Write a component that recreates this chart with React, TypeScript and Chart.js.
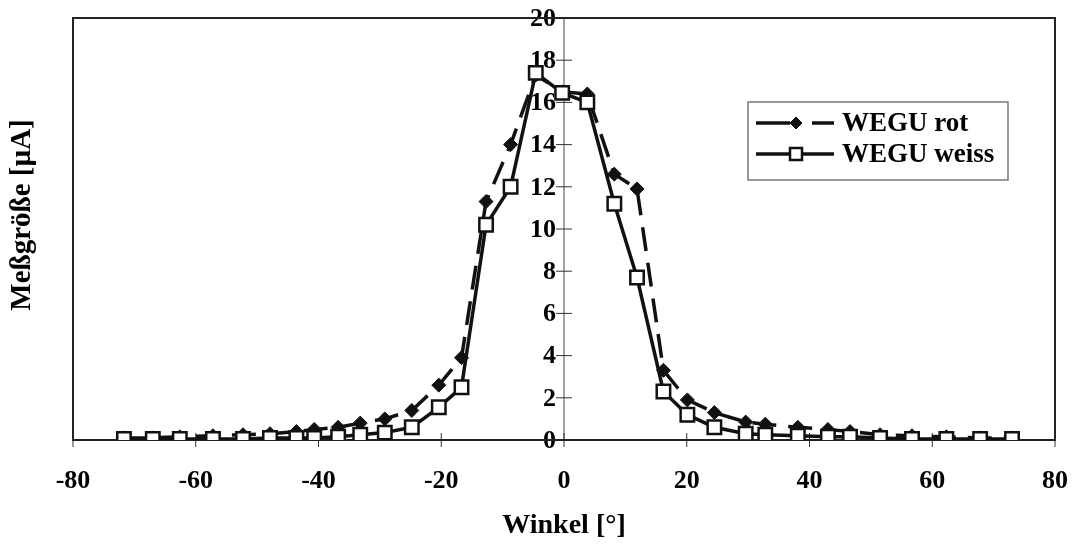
import React, { useEffect, useRef } from "react";
import { Chart, registerables } from "chart.js";

Chart.register(...registerables);

// Winkel [°] (x positions shared by both series)
const angles = [
  -71.7, -67.0, -62.6, -57.2, -52.3, -47.9, -43.6, -40.7, -36.8, -33.2,
  -29.2, -24.8, -20.4, -16.7, -12.7, -8.7, -4.6, -0.3, 3.8, 8.2,
  11.9, 16.2, 20.1, 24.5, 29.6, 32.8, 38.1, 43.0, 46.6, 51.5,
  56.7, 62.3, 67.8, 73.0,
];
// Meßgröße [µA]
const wegRot = [
  0.1, 0.1, 0.15, 0.2, 0.25, 0.3, 0.4, 0.5, 0.6, 0.8,
  1.0, 1.4, 2.6, 3.9, 11.3, 14.0, 17.3, 16.5, 16.4, 12.6,
  11.9, 3.3, 1.9, 1.3, 0.85, 0.75, 0.6, 0.5, 0.4, 0.25,
  0.2, 0.15, 0.1, 0.1,
];
const wegWeiss = [
  0.05, 0.05, 0.05, 0.05, 0.05, 0.1, 0.1, 0.1, 0.15, 0.25,
  0.35, 0.6, 1.55, 2.5, 10.2, 12.0, 17.4, 16.45, 16.0, 11.2,
  7.7, 2.3, 1.2, 0.6, 0.3, 0.25, 0.2, 0.15, 0.15, 0.1,
  0.05, 0.05, 0.05, 0.05,
];
const seriesLabels = ["WEGU rot", "WEGU weiss"];
const xTickValues = [-80, -60, -40, -20, 0, 20, 40, 60, 80];
const yTickValues = [0, 2, 4, 6, 8, 10, 12, 14, 16, 18, 20];
const xTitle = "Winkel [°]";
const yTitle = "Meßgröße [µA]";

const FONT = '"Liberation Serif", "Times New Roman", serif';
const INK = "#111";
const TICK_SIZE = 26;

const framePlugin = {
  id: "frame",
  beforeDatasetsDraw(chart: any) {
    const { ctx, chartArea: a, scales } = chart;
    const xs = scales.x;
    const ys = scales.y;
    ctx.save();
    // y axis line at x = 0
    const x0 = xs.getPixelForValue(0);
    ctx.strokeStyle = "#666";
    ctx.lineWidth = 1.2;
    ctx.beginPath();
    ctx.moveTo(x0, a.top);
    ctx.lineTo(x0, a.bottom);
    ctx.stroke();
    // y tick crosses + labels (axis crosses at x = 0)
    ctx.strokeStyle = "#333";
    ctx.lineWidth = 1;
    ctx.fillStyle = "#000";
    ctx.font = `bold ${TICK_SIZE}px ${FONT}`;
    ctx.textAlign = "right";
    ctx.textBaseline = "middle";
    ys.ticks.forEach((t: any) => {
      const py = ys.getPixelForValue(t.value);
      ctx.beginPath();
      ctx.moveTo(x0 - 8, py);
      ctx.lineTo(x0 + 8, py);
      ctx.stroke();
      ctx.fillText(String(t.value), x0 - 8, py + 1);
    });
    // x tick crosses
    xs.ticks.forEach((t: any) => {
      const px = xs.getPixelForValue(t.value);
      ctx.beginPath();
      ctx.moveTo(px, a.bottom - 7);
      ctx.lineTo(px, a.bottom + 7);
      ctx.stroke();
    });
    // frame
    ctx.strokeStyle = "#222";
    ctx.lineWidth = 2;
    ctx.strokeRect(a.left, a.top, a.right - a.left, a.bottom - a.top);
    ctx.restore();
  },
  afterDraw(chart: any) {
    const { ctx } = chart;
    const ds = chart.data.datasets;
    ctx.save();
    // y title
    ctx.translate(23, 215);
    ctx.rotate(-Math.PI / 2);
    ctx.fillStyle = "#000";
    ctx.font = `bold 29px ${FONT}`;
    ctx.textAlign = "center";
    ctx.textBaseline = "middle";
    ctx.fillText(yTitle, 0, 0);
    ctx.restore();

    // legend
    ctx.save();
    const bx = 748, by = 102, bw = 260, bh = 78;
    ctx.fillStyle = "#fff";
    ctx.fillRect(bx, by, bw, bh);
    ctx.strokeStyle = "#777";
    ctx.lineWidth = 1.5;
    ctx.strokeRect(bx, by, bw, bh);
    const rows = [123, 154];
    rows.forEach((ry, i) => {
      const d = ds[i];
      ctx.strokeStyle = d.borderColor;
      ctx.lineWidth = d.borderWidth;
      ctx.setLineDash(i === 0 ? [34, 22] : []);
      ctx.beginPath();
      ctx.moveTo(756, ry);
      ctx.lineTo(834, ry);
      ctx.stroke();
      ctx.setLineDash([]);
      const cx = 796;
      ctx.fillStyle = d.pointBackgroundColor;
      ctx.strokeStyle = d.pointBorderColor;
      ctx.lineWidth = d.pointBorderWidth;
      ctx.beginPath();
      if (i === 0) {
        const r = 6;
        ctx.moveTo(cx, ry - r);
        ctx.lineTo(cx + r, ry);
        ctx.lineTo(cx, ry + r);
        ctx.lineTo(cx - r, ry);
        ctx.closePath();
      } else {
        ctx.rect(cx - 6, ry - 6, 12, 12);
      }
      ctx.fill();
      ctx.stroke();
      ctx.fillStyle = "#000";
      ctx.font = `bold 27px ${FONT}`;
      ctx.textAlign = "left";
      ctx.textBaseline = "middle";
      ctx.fillText(seriesLabels[i], 842, ry + 1);
    });
    ctx.restore();
  },
};

export default function App() {
  const ref = useRef<HTMLCanvasElement | null>(null);
  useEffect(() => {
    if (!ref.current) return;
    const tickFont = { family: FONT, size: TICK_SIZE, weight: "bold" as const };
    const chart = new Chart(ref.current, {
      type: "scatter",
      data: {
        datasets: [
          {
            label: seriesLabels[0],
            data: angles.map((a, i) => ({ x: a, y: wegRot[i] })),
            showLine: true,
            borderColor: INK,
            borderWidth: 3.5,
            borderDash: [24, 12],
            pointStyle: "rectRot",
            pointRadius: 7,
            pointBackgroundColor: INK,
            pointBorderColor: INK,
            pointBorderWidth: 1,
            order: 1,
          },
          {
            label: seriesLabels[1],
            data: angles.map((a, i) => ({ x: a, y: wegWeiss[i] })),
            showLine: true,
            borderColor: INK,
            borderWidth: 3.5,
            pointStyle: "rect",
            pointRadius: 9.5,
            pointBackgroundColor: "#fff",
            pointBorderColor: INK,
            pointBorderWidth: 2.5,
            order: 0,
          },
        ] as any,
      },
      options: {
        animation: false,
        responsive: true,
        maintainAspectRatio: false,
        layout: { padding: { left: 73, right: 19, top: 18, bottom: 0 } },
        plugins: { legend: { display: false }, tooltip: { enabled: false } },
        scales: {
          x: {
            type: "linear",
            position: "bottom",
            min: -80,
            max: 80,
            afterBuildTicks: (s: any) => {
              s.ticks = xTickValues.map((v) => ({ value: v }));
            },
            afterFit: (s: any) => {
              s.height = 105;
              s.paddingLeft = 0;
              s.paddingRight = 0;
            },
            grid: { display: false, drawTicks: false },
            border: { display: false },
            ticks: { font: tickFont, color: "#000", padding: 26, maxRotation: 0 },
            title: {
              display: true,
              text: xTitle,
              color: "#000",
              font: { family: FONT, size: 28, weight: "bold" },
              padding: { top: 0, bottom: 2 },
            },
          },
          y: {
            type: "linear",
            position: { x: 0 } as any,
            min: 0,
            max: 20,
            afterBuildTicks: (s: any) => {
              s.ticks = yTickValues.map((v) => ({ value: v }));
            },
            afterFit: (s: any) => {
              s.paddingTop = 0;
              s.paddingBottom = 0;
            },
            grid: { display: false, drawTicks: false },
            border: { display: false },
            ticks: { display: false },
          },
        },
      } as any,
      plugins: [framePlugin],
    });
    return () => chart.destroy();
  }, []);
  return (
    <div style={{ position: "absolute", left: 0, top: 0, width: 1074, height: 545, background: "#fff" }}>
      <canvas ref={ref} />
    </div>
  );
}
